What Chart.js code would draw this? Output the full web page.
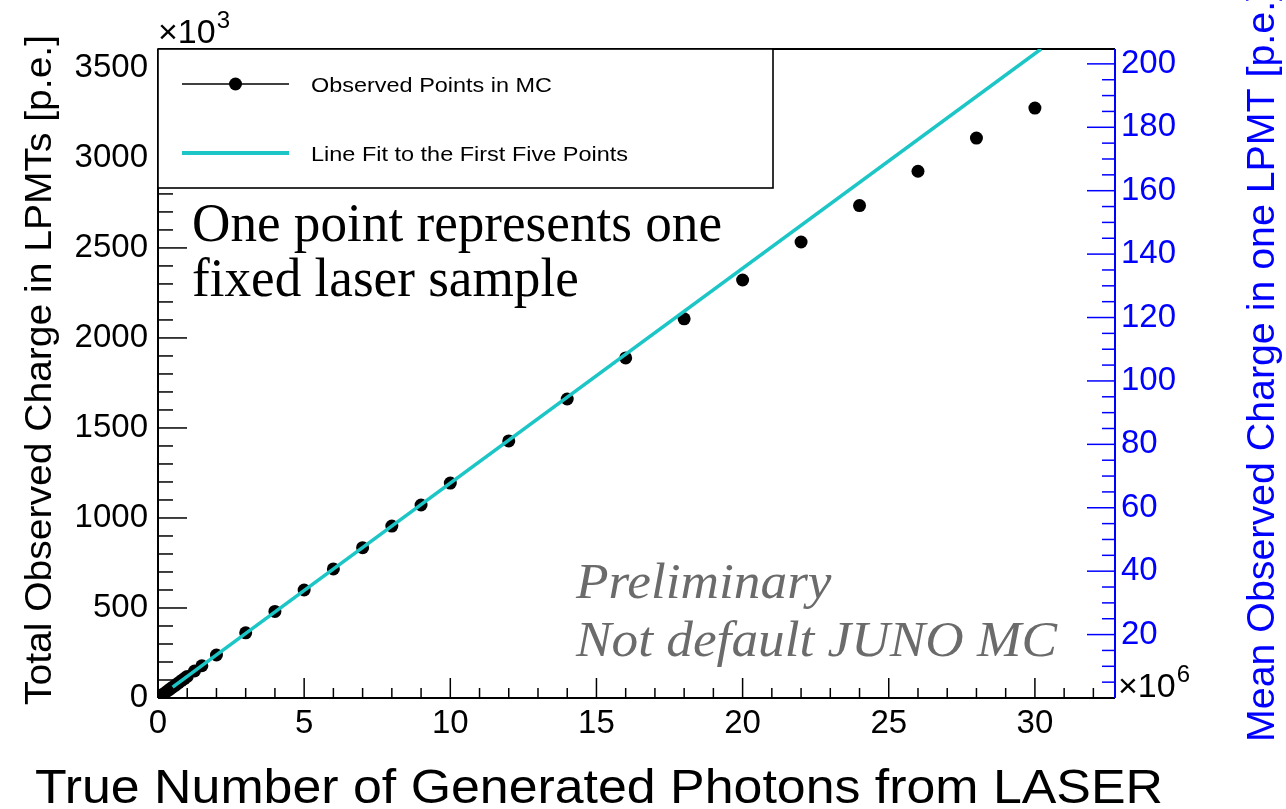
<!DOCTYPE html>
<html>
<head>
<meta charset="utf-8">
<script src="https://cdn.jsdelivr.net/npm/chart.js@4.4.0/dist/chart.umd.min.js"></script>
<style>
  html, body { margin: 0; padding: 0; background: #fff; }
  #wrap { width: 1286px; height: 809px; }
</style>
</head>
<body>
<div id="wrap"><canvas id="laserChart" width="1286" height="809"></canvas></div>
<script>
// generated photons per laser sample (x10^6) and total charge seen in the LPMTs (x10^3 p.e.)
const photons = [0.1, 0.2, 0.3, 0.4, 0.5, 0.6, 0.7, 0.8, 0.9, 1.0, 1.25, 1.5,
  2, 3, 4, 5, 6, 7, 8, 9, 10, 12, 14, 16, 18, 20, 22, 24, 26, 28, 30];
const totalCharge = [12, 24, 36, 48, 60, 72, 84, 96, 108, 120, 150, 179,
  239, 362, 481, 600, 717, 835, 955, 1072, 1194, 1428, 1661, 1889, 2106, 2322, 2533, 2735, 2926, 3110, 3277];

// end points of the straight-line fit (it runs off the top of the frame)
const fitPhotons = [0.5, 30.21];
const fitCharge = [60, 3605];

const xTicks = [0, 5, 10, 15, 20, 25, 30];
const leftTicks = [0, 500, 1000, 1500, 2000, 2500, 3000, 3500];
const rightTicks = [20, 40, 60, 80, 100, 120, 140, 160, 180, 200];

const X_MAX = 32.74;
const Y_MAX = 3605;
const N_LPMT = 17612;
const Y2_MAX = Y_MAX * 1000 / N_LPMT;

const SANS = '"Liberation Sans", Arial, sans-serif';
const SERIF = '"Liberation Serif", "Times New Roman", serif';
const CYAN = '#1cc6c6';
const BLUE = '#0000ff';

const ctx = document.getElementById("laserChart").getContext("2d");

function strokeLine(c, x1, y1, x2, y2) {
  c.beginPath();
  c.moveTo(x1, y1);
  c.lineTo(x2, y2);
  c.stroke();
}

// draw text squeezed/stretched horizontally to a given width
function textToWidth(c, text, x, y, width, font, color, rotate) {
  c.save();
  c.font = font;
  const w = c.measureText(text).width;
  c.translate(x, y);
  if (rotate) c.rotate(-Math.PI / 2);
  c.scale(width / w, 1);
  c.fillStyle = color;
  c.textAlign = "left";
  c.textBaseline = "alphabetic";
  c.fillText(text, 0, 0);
  c.restore();
  return width / w;
}

function textScaled(c, text, x, y, sx, font, color, rotate) {
  c.save();
  c.font = font;
  c.translate(x, y);
  if (rotate) c.rotate(-Math.PI / 2);
  c.scale(sx, 1);
  c.fillStyle = color;
  c.textAlign = "left";
  c.textBaseline = "alphabetic";
  c.fillText(text, 0, 0);
  c.restore();
}

function exponent(c, x, y, power, color) {
  c.save();
  c.fillStyle = color;
  c.textAlign = "left";
  c.textBaseline = "alphabetic";
  c.font = "34px " + SANS;
  c.fillText("\u00d710", x, y);
  const w = c.measureText("\u00d710").width;
  c.font = "24px " + SANS;
  c.fillText(power, x + w + 1, y - 15);
  c.restore();
}

// inward tick marks and the frame
const frameTicks = {
  id: "frameTicks",
  beforeDatasetsDraw(chart) {
    const { ctx: c, chartArea: a, scales } = chart;
    c.save();
    c.lineWidth = 1.5;
    c.strokeStyle = "#000";
    for (let i = 0; i * 100 <= Y_MAX; i++) {
      const y = scales.y.getPixelForValue(i * 100);
      strokeLine(c, a.left, y, a.left + (i % 5 === 0 ? 29 : 15), y);
    }
    for (let i = 0; i <= X_MAX; i++) {
      const x = scales.x.getPixelForValue(i);
      strokeLine(c, x, a.bottom, x, a.bottom - (i % 5 === 0 ? 20 : 10));
    }
    c.strokeStyle = BLUE;
    for (let i = 0; i * 5 <= Y2_MAX; i++) {
      const y = scales.y2.getPixelForValue(i * 5);
      strokeLine(c, a.right, y, a.right - (i % 4 === 0 ? 28 : 13), y);
    }
    c.lineWidth = 2;
    c.strokeStyle = "#000";
    strokeLine(c, a.left, a.top, a.right, a.top);
    strokeLine(c, a.left, a.top, a.left, a.bottom);
    strokeLine(c, a.left, a.bottom, a.right, a.bottom);
    c.strokeStyle = BLUE;
    strokeLine(c, a.right, a.top, a.right, a.bottom);
    c.restore();
  },
  afterDatasetsDraw(chart) {
    const { ctx: c, chartArea: a } = chart;
    const ds = chart.data.datasets;

    // legend box
    c.save();
    c.fillStyle = "#fff";
    c.fillRect(a.left, a.top, 615, 139);
    c.lineWidth = 1.6;
    c.strokeStyle = "#000";
    c.strokeRect(a.left, a.top, 615, 139);

    c.lineWidth = 1.6;
    c.strokeStyle = ds[1].borderColor;
    strokeLine(c, 182, 84, 289, 84);
    c.fillStyle = ds[1].pointBackgroundColor;
    c.beginPath();
    c.arc(235.5, 84, 6.5, 0, Math.PI * 2);
    c.fill();

    c.lineWidth = 4;
    c.strokeStyle = ds[0].borderColor;
    strokeLine(c, 182, 153, 289, 153);
    c.restore();

    textToWidth(c, ds[1].label, 311, 92, 241, "21px " + SANS, "#000");
    textToWidth(c, ds[0].label, 311, 161, 317, "21px " + SANS, "#000");

    // notes inside the frame
    const s = textToWidth(c, "One point represents one", 192, 241, 530, "54px " + SERIF, "#000");
    textScaled(c, "fixed laser sample", 192, 296, s, "54px " + SERIF, "#000");
    const si = textToWidth(c, "Not default JUNO MC", 576, 656, 481, "italic 50px " + SERIF, "#6b6b6b");
    textScaled(c, "Preliminary", 576, 598, si, "italic 50px " + SERIF, "#6b6b6b");

    // axis titles
    textToWidth(c, "Total Observed Charge in LPMTs [p.e.]", 51, 705, 670, "37px " + SANS, "#000", true);
    textToWidth(c, "Mean Observed Charge in one LPMT [p.e.]", 1274, 742, 752, "38px " + SANS, BLUE, true);
    textToWidth(c, "True Number of Generated Photons from LASER", 35, 803, 1128, "49px " + SANS, "#000");

    exponent(c, 158, 43, "3", "#000");
    exponent(c, 1118, 697, "6", "#000");
  }
};

const tickFont = { family: SANS, size: 33 };
const plainLabel = (v) => String(v);

const chart = new Chart(ctx, {
  type: "scatter",
  data: {
    datasets: [
      {
        label: "Line Fit to the First Five Points",
        type: "line",
        data: fitPhotons.map((x, i) => ({ x: x, y: fitCharge[i] })),
        borderColor: CYAN,
        borderWidth: 3.5,
        pointRadius: 0,
        fill: false,
        order: 0,
      },
      {
        label: "Observed Points in MC",
        data: photons.map((x, i) => ({ x: x, y: totalCharge[i] })),
        borderColor: "#000",
        pointBackgroundColor: "#000",
        pointBorderWidth: 0,
        pointRadius: 6.5,
        showLine: false,
        order: 1,
      },
    ],
  },
  options: {
    responsive: false,
    animation: false,
    events: [],
    layout: { autoPadding: false, padding: { top: 49, left: 0, right: 0, bottom: 0 } },
    plugins: { legend: { display: false }, tooltip: { enabled: false } },
    scales: {
      x: {
        type: "linear",
        min: 0,
        max: X_MAX,
        grid: { display: false, drawTicks: false },
        border: { display: false },
        ticks: { font: tickFont, color: "#000", padding: 6, maxRotation: 0, callback: plainLabel },
        afterBuildTicks: (scale) => { scale.ticks = xTicks.map((v) => ({ value: v })); },
        afterFit: (scale) => { scale.height = 111; },
      },
      y: {
        type: "linear",
        position: "left",
        min: 0,
        max: Y_MAX,
        grid: { display: false, drawTicks: false },
        border: { display: false },
        ticks: { font: tickFont, color: "#000", padding: 10, callback: plainLabel },
        afterBuildTicks: (scale) => { scale.ticks = leftTicks.map((v) => ({ value: v })); },
        afterFit: (scale) => { scale.width = 158; },
      },
      y2: {
        type: "linear",
        position: "right",
        min: 0,
        max: Y2_MAX,
        grid: { display: false, drawTicks: false },
        border: { display: false },
        ticks: { font: tickFont, color: BLUE, padding: 6, callback: plainLabel },
        afterBuildTicks: (scale) => { scale.ticks = rightTicks.map((v) => ({ value: v })); },
        afterFit: (scale) => { scale.width = 171; },
      },
    },
  },
  plugins: [frameTicks],
});
</script>
</body>
</html>
